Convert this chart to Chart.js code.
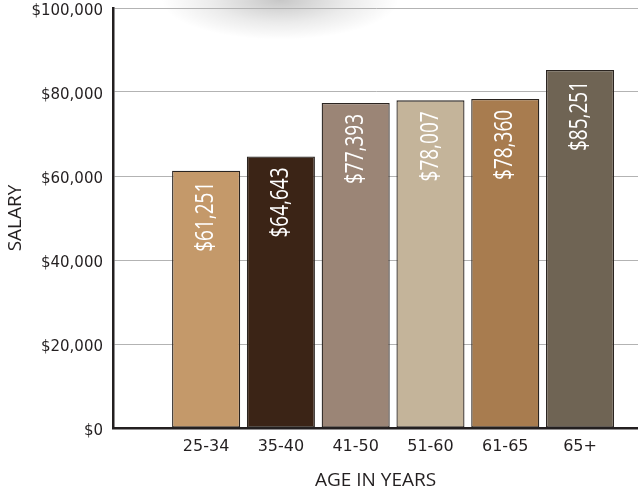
<!DOCTYPE html>
<html>
<head>
<meta charset="utf-8">
<script src="https://cdn.jsdelivr.net/npm/chart.js@4/dist/chart.umd.min.js"></script>
<style>
  html, body { margin: 0; padding: 0; background: #fff; overflow: hidden; }
  #wrap { position: relative; width: 638px; height: 493px; }
  #shade {
    position: absolute; left: 160px; top: -40px; width: 240px; height: 80px;
    background: radial-gradient(ellipse at center, rgba(0,0,0,0.22) 0%, rgba(0,0,0,0.08) 40%, rgba(0,0,0,0) 70%);
  }
  canvas { position: absolute; left: 0; top: 0; }
</style>
</head>
<body>
<div id="wrap">
  <div id="shade"></div>
  <canvas id="chart" width="638" height="493"></canvas>
</div>
<script>
var ageGroups = ['25-34', '35-40', '41-50', '51-60', '61-65', '65+']
var salaries = [61251, 64643, 77393, 78007, 78360, 85251]
var barColors = ['#C4996A', '#3B2416', '#9B8576', '#C4B49A', '#A87C4F', '#6F6454']
var yTicks = [0, 20000, 40000, 60000, 80000, 100000]

function money(v) {
    return '$' + v.toLocaleString('en-US')
}

// white rotated value labels near the top of each bar
var barLabels = {
    id: 'barLabels',
    afterDatasetsDraw: function (chart) {
        var ctx = chart.ctx
        var meta = chart.getDatasetMeta(0)
        ctx.save()
        ctx.fillStyle = '#ffffff'
        ctx.font = '25px "Open Sans", sans-serif'
        ctx.textAlign = 'right'
        ctx.textBaseline = 'middle'
        meta.data.forEach(function (bar, i) {
            ctx.save()
            ctx.translate(bar.x, bar.y + 11)
            ctx.rotate(-Math.PI / 2)
            ctx.scale(0.76, 1)
            ctx.fillText(money(salaries[i]), 0, 0)
            ctx.restore()
        })
        ctx.restore()
    }
}

new Chart(document.getElementById('chart').getContext('2d'), {
    type: 'bar',
    data: {
        datasets: [{
            data: salaries.map(function (v, i) { return { x: i, y: v } }),
            backgroundColor: barColors,
            borderColor: '#2a2420',
            borderWidth: 1.3,
            borderSkipped: false,
            barPercentage: 0.91,
            categoryPercentage: 1
        }]
    },
    plugins: [barLabels],
    options: {
        responsive: false,
        animation: false,
        layout: { padding: 0 },
        plugins: {
            legend: { display: false },
            tooltip: { enabled: false }
        },
        scales: {
            x: {
                type: 'linear',
                offset: false,
                min: -1.245,
                max: 5.775,
                afterBuildTicks: function (axis) {
                    axis.ticks = ageGroups.map(function (g, i) { return { value: i } })
                },
                afterFit: function (axis) {
                    axis.height = 65
                    axis.paddingLeft = 0
                    axis.paddingRight = 0
                },
                ticks: {
                    autoSkip: false,
                    maxRotation: 0,
                    padding: 9,
                    color: '#231F20',
                    font: { family: '"DejaVu Sans", sans-serif', size: 16 },
                    callback: function (v) { return ageGroups[v] }
                },
                grid: { display: false, drawTicks: false },
                border: { display: true, color: '#231F20', width: 2.5 },
                title: {
                    display: true,
                    text: 'AGE IN YEARS',
                    color: '#231F20',
                    padding: { top: 10, bottom: 1 },
                    font: { family: '"Open Sans", sans-serif', size: 19 }
                }
            },
            y: {
                min: 0,
                max: 100000,
                afterBuildTicks: function (axis) {
                    axis.ticks = yTicks.map(function (v) { return { value: v } })
                },
                afterFit: function (axis) {
                    axis.width = 113
                    axis.paddingTop = 8
                    axis.paddingBottom = 0
                },
                ticks: {
                    padding: 10,
                    labelOffset: 3,
                    color: '#231F20',
                    font: { family: '"DejaVu Sans", sans-serif', size: 15 },
                    callback: function (v) { return money(v) }
                },
                grid: { color: '#b3b3b3', lineWidth: 1, drawTicks: false },
                border: { display: true, color: '#231F20', width: 2.5 },
                title: {
                    display: true,
                    text: 'SALARY',
                    color: '#231F20',
                    padding: { top: 4, bottom: 0 },
                    font: { family: '"Open Sans", sans-serif', size: 19 }
                }
            }
        }
    }
})
</script>
</body>
</html>
